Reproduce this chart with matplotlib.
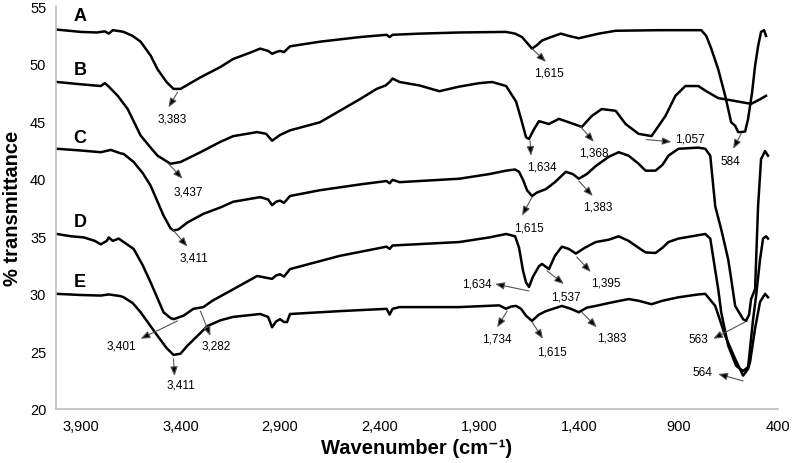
import numpy as np
import matplotlib
matplotlib.use('Agg')
import matplotlib.pyplot as plt

plt.rcParams['font.family'] = ['Liberation Sans', 'DejaVu Sans']

# Spectra (wavenumber cm-1, % transmittance)
wn_A = [4020, 3900, 3820, 3780, 3760, 3740, 3700, 3685, 3640, 3600, 3550, 3515, 3470, 3435, 3400, 3360,
        3300, 3200, 3135, 3050, 3000, 2960, 2940, 2920, 2900, 2880, 2850, 2700, 2500, 2365, 2350, 2335,
        2200, 2000, 1765, 1720, 1685, 1660, 1635, 1610, 1585, 1540, 1490, 1450, 1400, 1350, 1300, 1215,
        1000, 900, 785, 760, 735, 700, 665, 635, 615, 600, 585, 565, 550, 530, 515, 500, 485, 470, 460]
tr_A = [52.95, 52.75, 52.7, 52.8, 52.6, 52.9, 52.8, 52.75, 52.4, 51.9, 50.7, 49.5, 48.4, 47.8, 47.8, 48.2,
        48.8, 49.7, 50.4, 50.95, 51.3, 51.1, 50.85, 51.0, 51.1, 51.0, 51.5, 51.9, 52.3, 52.5, 52.3, 52.5,
        52.6, 52.7, 52.75, 52.6, 52.3, 51.8, 51.3, 51.6, 52.0, 52.3, 52.6, 52.4, 52.2, 52.4, 52.6, 52.85,
        52.9, 52.9, 52.9, 52.4, 51.3, 49.5, 47.2, 44.9, 44.6, 44.05, 44.05, 44.1, 45.2, 47.5, 49.8, 51.5, 52.75, 52.9, 52.4]

wn_B = [4020, 3900, 3800, 3780, 3760, 3715, 3665, 3600, 3550, 3515, 3450, 3400, 3300, 3200, 3135, 3015,
        2970, 2940, 2900, 2850, 2700, 2585, 2500, 2415, 2370, 2350, 2335, 2300, 2200, 2100, 2000, 1900,
        1835, 1765, 1715, 1690, 1665, 1650, 1625, 1600, 1550, 1500, 1450, 1385, 1335, 1285, 1215, 1165,
        1100, 1035, 965, 915, 865, 800, 760, 700, 665, 600, 535, 490, 460]
tr_B = [48.4, 48.2, 48.05, 48.3, 48.0, 47.2, 46.05, 43.75, 42.7, 42.0, 41.3, 41.45, 42.3, 43.2, 43.7, 44.05,
        43.9, 43.3, 43.8, 44.2, 44.9, 46.05, 46.9, 47.8, 48.1, 48.4, 48.7, 48.4, 48.1, 47.6, 48.0, 48.3,
        48.4, 48.05, 46.7, 45.2, 43.6, 43.45, 44.3, 45.0, 44.75, 45.2, 44.9, 44.5, 45.45, 46.05, 45.9, 44.75,
        43.9, 43.7, 45.45, 47.2, 48.05, 48.05, 47.6, 47.0, 46.9, 46.7, 46.5, 46.9, 47.2]

wn_C = [4020, 3900, 3800, 3750, 3700, 3685, 3635, 3590, 3550, 3485, 3450, 3435, 3410, 3365, 3285, 3200,
        3135, 3000, 2960, 2940, 2920, 2900, 2880, 2850, 2700, 2500, 2365, 2350, 2335, 2300, 2000, 1850,
        1765, 1720, 1700, 1680, 1660, 1635, 1610, 1565, 1520, 1465, 1430, 1400, 1360, 1315, 1250, 1200,
        1150, 1100, 1065, 1015, 980, 950, 900, 800, 765, 740, 715, 685, 650, 635, 615, 575, 560, 545,
        535, 515, 500, 485, 465, 450]
tr_C = [42.6, 42.45, 42.3, 42.5, 42.2, 42.15, 41.45, 40.5, 39.4, 36.8, 35.7, 35.5, 35.6, 36.2, 36.95, 37.5,
        38.0, 38.4, 38.2, 37.7, 38.0, 38.1, 37.9, 38.5, 39.0, 39.5, 39.8, 39.6, 39.9, 39.7, 40.0, 40.4,
        40.7, 40.8, 40.6, 39.9, 39.0, 38.5, 38.8, 39.1, 39.7, 40.6, 40.4, 40.0, 40.4, 41.1, 41.9, 42.3,
        42.0, 41.3, 40.7, 40.7, 41.2, 42.0, 42.6, 42.7, 42.6, 42.0, 37.6, 35.6, 33.0, 31.3, 28.95, 27.8, 27.65, 28.2,
        29.55, 30.4, 37.6, 41.7, 42.4, 42.0]

wn_D = [4020, 3950, 3885, 3830, 3800, 3770, 3760, 3740, 3710, 3685, 3635, 3590, 3550, 3485, 3450, 3435,
        3385, 3335, 3285, 3240, 3135, 3015, 2970, 2940, 2920, 2900, 2880, 2850, 2600, 2365, 2350, 2335,
        2000, 1850, 1765, 1720, 1700, 1680, 1665, 1650, 1630, 1600, 1585, 1550, 1520, 1485, 1450, 1415,
        1370, 1315, 1250, 1200, 1150, 1100, 1065, 1015, 980, 950, 900, 765, 740, 700, 685, 650, 610, 575,
        550, 525, 510, 490, 475, 460, 450]
tr_D = [35.2, 35.0, 34.9, 34.6, 34.3, 34.6, 34.9, 34.6, 34.8, 34.5, 33.9, 32.5, 31.0, 28.4, 27.9, 27.8,
        28.1, 28.7, 28.85, 29.4, 30.4, 31.55, 31.4, 31.3, 31.6, 31.7, 31.5, 32.15, 33.3, 34.1, 33.9, 34.2,
        34.5, 34.9, 35.2, 35.0, 34.0, 32.0, 31.0, 30.6, 31.5, 32.4, 32.6, 32.15, 33.3, 34.1, 33.9, 33.5,
        34.0, 34.5, 34.7, 35.0, 34.6, 34.0, 33.6, 33.55, 34.0, 34.5, 34.8, 35.2, 34.8, 30.4, 28.4, 25.5, 23.75, 23.3,
        23.65, 27.8, 29.8, 33.0, 34.8, 35.0, 34.8]

wn_E = [4020, 3900, 3800, 3760, 3700, 3685, 3640, 3600, 3515, 3470, 3435, 3400, 3365, 3300, 3265, 3200,
        3135, 3000, 2960, 2940, 2920, 2900, 2880, 2865, 2850, 2600, 2365, 2350, 2335, 2300, 2000, 1800,
        1765, 1740, 1715, 1690, 1665, 1635, 1600, 1565, 1485, 1440, 1400, 1360, 1315, 1250, 1150, 1100,
        1035, 980, 900, 800, 765, 715, 665, 615, 575, 550, 540, 515, 490, 465, 450]
tr_E = [30.0, 29.9, 29.85, 29.95, 29.8, 29.7, 29.2, 28.4, 26.35, 25.3, 24.7, 24.8, 25.5, 26.6, 27.2, 27.7,
        28.0, 28.25, 28.0, 27.1, 27.6, 27.8, 27.55, 27.55, 28.25, 28.5, 28.7, 28.2, 28.7, 28.85, 28.85, 29.0,
        28.7, 28.9, 28.95, 28.7, 28.1, 27.65, 28.2, 28.5, 28.95, 28.7, 28.4, 28.8, 28.95, 29.2, 29.55, 29.4,
        29.1, 29.4, 29.7, 29.95, 30.0, 28.95, 26.35, 24.35, 22.9, 23.5, 24.1, 27.0, 29.3, 30.0, 29.7]

curve_names = ['A', 'B', 'C', 'D', 'E']
name_pos = [(3905, 54.2), (3905, 49.5), (3905, 43.6), (3905, 36.25), (3905, 31.1)]

# peak labels: text, tail on curve, arrow head, text position
peaks = [
    ('3,383', (3415, 47.5), (3460, 46.2), (3440, 45.2)),
    ('1,615', (1635, 51.3), (1565, 50.15), (1550, 49.2)),
    ('584', (585, 43.9), (625, 42.6), (640, 41.5)),
    ('3,437', (3460, 41.3), (3390, 40.0), (3360, 38.85)),
    ('1,634', (1645, 43.3), (1640, 42.0), (1585, 41.1)),
    ('1,368', (1390, 44.5), (1325, 43.2), (1325, 42.3)),
    ('3,411', (3440, 35.6), (3365, 34.1), (3335, 33.2)),
    ('1,615', (1635, 38.4), (1685, 36.8), (1650, 35.8)),
    ('1,383', (1400, 39.8), (1330, 38.5), (1305, 37.55)),
    ('3,401', (3415, 27.65), (3600, 26.1), (3695, 25.55)),
    ('3,282', (3300, 28.5), (3250, 26.35), (3220, 25.5)),
    ('1,537', (1560, 32.0), (1475, 30.86), (1465, 29.8)),
    ('1,395', (1410, 33.2), (1340, 31.9), (1265, 31.0)),
    ('3,411', (3435, 24.34), (3430, 22.87), (3400, 22.1)),
    ('1,734', (1760, 28.5), (1810, 27.1), (1810, 26.1)),
    ('1,615', (1635, 27.56), (1580, 26.1), (1535, 25.0)),
    ('1,383', (1385, 28.4), (1310, 27.1), (1235, 26.2)),
]
# labels placed beside the arrow head: (text, tail, head, text position, alignment)
peaks_side = [
    ('1,057', (1060, 43.4), (935, 43.2), (918, 43.45), 'left'),
    ('1,634', (1650, 30.25), (1820, 30.86), (1840, 30.86), 'right'),
    ('563', (565, 27.56), (725, 26.1), (748, 26.1), 'right'),
    ('564', (575, 22.43), (700, 23.04), (728, 23.2), 'right'),
]

x_ticks = [3900, 3400, 2900, 2400, 1900, 1400, 900, 400]
x_tick_labels = ['3,900', '3,400', '2,900', '2,400', '1,900', '1,400', '900', '400']
y_ticks = [20, 25, 30, 35, 40, 45, 50, 55]

fig = plt.figure(figsize=(7.92, 4.64), dpi=100)
ax = fig.add_axes([0.0707, 0.1164, 0.9116, 0.8685])

spectra = [(wn_A, tr_A), (wn_B, tr_B), (wn_C, tr_C), (wn_D, tr_D), (wn_E, tr_E)]
for wn, tr in spectra:
    ax.plot(wn, tr, color='black', lw=1.8, solid_joinstyle='round')

for name, (x, y) in zip(curve_names, name_pos):
    ax.text(x, y, name, fontsize=13, fontweight='bold', ha='center', va='center')

arrow_kw = dict(arrowstyle='-|>,head_length=0.55,head_width=0.22', ec='#555555', fc='black', lw=0.8,
                shrinkA=0, shrinkB=0)
for label, tail, head, tpos in peaks:
    ax.annotate('', xy=head, xytext=tail, arrowprops=arrow_kw)
    ax.text(tpos[0], tpos[1], label, fontsize=8.5, ha='center', va='center')
for label, tail, head, tpos, align in peaks_side:
    ax.annotate('', xy=head, xytext=tail, arrowprops=arrow_kw)
    ax.text(tpos[0], tpos[1], label, fontsize=8.5, ha=align, va='center')

ax.set_xlim(4025, 400)
ax.set_ylim(20, 55)
ax.set_xticks(x_ticks)
ax.set_xticklabels(x_tick_labels)
ax.set_yticks(y_ticks)
ax.tick_params(length=0, labelsize=10.5, pad=7)
for s in ['top', 'right']:
    ax.spines[s].set_visible(False)
for s in ['left', 'bottom']:
    ax.spines[s].set_color('#bdbdbd')
    ax.spines[s].set_linewidth(1.2)

ax.set_xlabel('Wavenumber (cm\u207b\u00b9)', fontsize=14.5, fontweight='bold', labelpad=4)
ax.set_ylabel('% transmittance', fontsize=14.5, fontweight='bold', labelpad=6)

fig.savefig('out.png', dpi=100)
